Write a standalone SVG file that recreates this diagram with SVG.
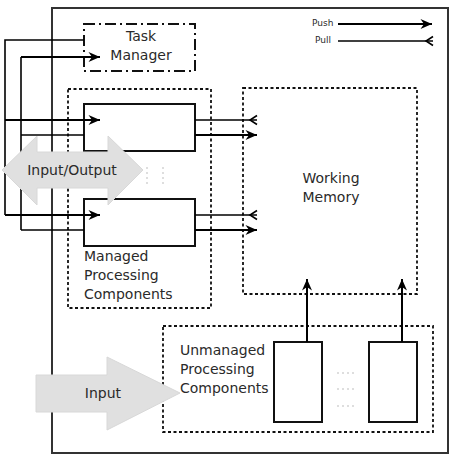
<svg xmlns="http://www.w3.org/2000/svg" width="453" height="457" viewBox="0 0 453 457">
<defs>
<style>
.box{fill:#fff;stroke:#111;stroke-width:2}
.dot{fill:none;stroke:#111;stroke-width:1.8;stroke-dasharray:3,2.5}
.dd{fill:#fff;stroke:#111;stroke-width:2;stroke-dasharray:11,4,2,4}
.w{fill:none;stroke:#000;stroke-width:1.6}
.push{fill:none;stroke:#000;stroke-width:2;marker-end:url(#mpush)}
.pull{fill:none;stroke:#000;stroke-width:1.6;marker-end:url(#mpull)}
.t{font-family:"DejaVu Sans",sans-serif;font-size:14px;fill:#2a2a2a}
.s{font-family:"DejaVu Sans",sans-serif;font-size:9px;fill:#2a2a2a}
.big{fill:#e0e0e0;stroke:#d8d8d8;stroke-width:1}
.gd{fill:none;stroke:#d4d4d4;stroke-width:1.5;stroke-dasharray:2,3}
</style>
<marker id="mpush" viewBox="-13 -7 14 14" refX="0" refY="0" markerWidth="14" markerHeight="14" markerUnits="userSpaceOnUse" orient="auto">
<path d="M0,0 L-11.5,-5 L-8,0 L-11.5,5 Z" fill="#000"/>
</marker>
<marker id="mpull" viewBox="-10 -6 12 12" refX="0" refY="0" markerWidth="12" markerHeight="12" markerUnits="userSpaceOnUse" orient="auto">
<path d="M0,-4.5 L-7,0 L0,4.5" fill="none" stroke="#000" stroke-width="1.6"/>
</marker>
</defs>
<g id="frame"><rect x="52" y="8" width="396" height="445" fill="#fff" stroke="#333" stroke-width="2"/></g>
<g id="legend">
<text class="s" x="312" y="26">Push</text>
<text class="s" x="315" y="43">Pull</text>
<line class="push" x1="338" y1="24" x2="432" y2="24"/>
<line class="pull" x1="338" y1="41" x2="433" y2="41"/>
</g>
<g id="task-manager">
<rect class="dd" x="84" y="24" width="111" height="47"/>
<text class="t" x="141" y="41" text-anchor="middle">Task</text>
<text class="t" x="141" y="60" text-anchor="middle">Manager</text>
</g>
<g id="managed-components">
<rect class="dot" x="68" y="89" width="143" height="219"/>
<text class="t" x="84" y="261">Managed</text>
<text class="t" x="84" y="280">Processing</text>
<text class="t" x="84" y="299">Components</text>
<line class="gd" x1="147" y1="167" x2="147" y2="186"/>
<line class="gd" x1="163" y1="167" x2="163" y2="186"/>
</g>
<g id="component-1"><rect class="box" x="84" y="104" width="111" height="47"/></g>
<g id="component-2"><rect class="box" x="84" y="199" width="111" height="47"/></g>
<g id="working-memory">
<rect class="dot" x="243" y="88" width="174" height="206"/>
<text class="t" x="331" y="183" text-anchor="middle">Working</text>
<text class="t" x="331" y="202" text-anchor="middle">Memory</text>
</g>
<g id="unmanaged-components">
<rect class="dot" x="163" y="326" width="270" height="106"/>
<text class="t" x="180" y="355">Unmanaged</text>
<text class="t" x="180" y="374">Processing</text>
<text class="t" x="180" y="393">Components</text>
<line class="gd" x1="337" y1="373" x2="356" y2="373"/>
<line class="gd" x1="337" y1="389" x2="356" y2="389"/>
<line class="gd" x1="337" y1="406" x2="356" y2="406"/>
</g>
<g id="unmanaged-1"><rect class="box" x="274" y="342" width="48" height="80"/></g>
<g id="unmanaged-2"><rect class="box" x="369" y="342" width="48" height="80"/></g>
<g id="connectors">
<path class="w" d="M84,40 H5 V215"/>
<path class="w" d="M21,230 V57"/>
<line class="push" x1="21" y1="57" x2="100" y2="57"/>
<line class="push" x1="5" y1="120" x2="100" y2="120"/>
<line class="w" x1="21" y1="135" x2="84" y2="135"/>
<line class="push" x1="5" y1="215" x2="100" y2="215"/>
<line class="w" x1="21" y1="230" x2="84" y2="230"/>
<line class="pull" x1="195" y1="120" x2="257" y2="120"/>
<line class="push" x1="195" y1="135" x2="257" y2="135"/>
<line class="pull" x1="195" y1="215" x2="257" y2="215"/>
<line class="push" x1="195" y1="230" x2="257" y2="230"/>
<line class="push" x1="307" y1="342" x2="307" y2="279"/>
<line class="push" x1="402" y1="342" x2="402" y2="279"/>
</g>
<g id="io-arrow">
<path class="big" d="M2,170 L37,136 L37,152 L108,152 L108,136 L143,170 L108,205 L108,188 L37,188 L37,205 Z"/>
<text class="t" x="72" y="175" text-anchor="middle">Input/Output</text>
</g>
<g id="input-arrow">
<path class="big" d="M36,375 L107,375 L107,357 L180,393 L107,430 L107,412 L36,412 Z"/>
<text class="t" x="103" y="398" text-anchor="middle">Input</text>
</g>
</svg>
